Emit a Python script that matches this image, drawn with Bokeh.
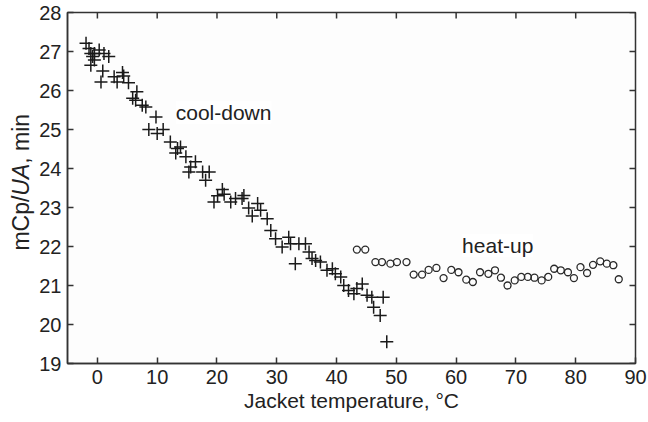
import math
from bokeh.plotting import figure
from bokeh.layouts import row
from bokeh.models import Range1d, Label, FixedTicker
from bokeh.embed import file_html
from bokeh.resources import INLINE

# ---- data ----
cool_x = [-1.9, -1.4, -1.1, -0.5, -0.8, 0.3, 1.1, 1.9, -1.1, -0.5, 0.9, 0.6, 2.8, 3.3,
          4.2, 4.4, 5.2, 6.6, 5.9, 6.4, 7.5, 8.1, 9.8, 8.6, 10.0, 11.0, 12.2, 13.4, 13.9,
          13.1, 14.8, 15.3, 15.6, 16.4, 17.6, 18.1, 18.7, 19.5, 20.1, 20.9, 21.2, 22.3,
          23.1, 24.2, 24.5, 25.3, 25.9, 26.8, 27.3, 28.4, 29.0, 29.8, 30.9, 32.0, 32.3,
          33.1, 33.7, 34.8, 35.4, 35.9, 36.5, 37.3, 38.4, 39.3, 39.8, 40.7, 41.2, 42.0,
          42.9, 43.4, 44.3, 45.1, 45.9, 46.2, 47.3, 47.8, 48.4]
cool_y = [27.21, 27.08, 26.95, 26.95, 26.87, 27.04, 26.95, 26.87, 26.65, 26.78, 26.50, 26.22,
          26.35, 26.22, 26.46, 26.37, 26.20, 25.97, 25.80, 25.75, 25.62, 25.58, 25.32, 25.00,
          24.90, 25.00, 24.68, 24.51, 24.55, 24.40, 24.30, 23.91, 24.04, 24.17, 23.91, 23.70,
          23.91, 23.14, 23.30, 23.46, 23.34, 23.14, 23.23, 23.23, 23.31, 22.99, 22.78, 23.10,
          22.93, 22.71, 22.41, 22.20, 21.99, 22.24, 22.07, 21.56, 22.07, 22.07, 21.86, 21.69,
          21.64, 21.60, 21.39, 21.43, 21.30, 21.22, 21.00, 20.87, 20.79, 20.92, 21.04, 20.75,
          20.70, 20.44, 20.23, 20.70, 19.56]

heat_x = [43.4, 44.8, 46.5, 47.6, 49.0, 50.1, 51.7, 52.9, 54.3, 55.4, 56.7, 57.9, 59.2,
          60.4, 61.7, 62.8, 64.0, 65.4, 66.5, 67.5, 68.6, 69.8, 70.9, 72.0, 73.1, 74.3,
          75.4, 76.4, 77.5, 78.7, 79.7, 80.8, 81.9, 82.9, 84.1, 85.2, 86.3, 87.2]
heat_y = [21.92, 21.92, 21.60, 21.60, 21.56, 21.60, 21.60, 21.28, 21.28, 21.40, 21.45, 21.19,
          21.40, 21.34, 21.15, 21.09, 21.34, 21.30, 21.39, 21.20, 21.00, 21.13, 21.22, 21.22,
          21.20, 21.13, 21.22, 21.43, 21.39, 21.34, 21.19, 21.47, 21.32, 21.53, 21.62, 21.56,
          21.52, 21.16]

x_ticks = [0, 10, 20, 30, 40, 50, 60, 70, 80, 90]
y_ticks = [19, 20, 21, 22, 23, 24, 25, 26, 27, 28]

FONT = "Liberation Sans"
AX = "#333333"
TXT = "#222222"
LEFT_W = 36
H = 422

# ---- narrow panel holding the y-axis title (with italic "UA") ----
lab = figure(width=LEFT_W, height=H, x_range=Range1d(0, LEFT_W), y_range=Range1d(0, H),
             output_backend="svg", toolbar_location=None,
             x_axis_location=None, y_axis_location=None,
             min_border=0, min_border_left=0, min_border_right=0,
             min_border_top=0, min_border_bottom=0)
lab.outline_line_color = None
lab.xgrid.visible = False
lab.ygrid.visible = False
lab.background_fill_color = "white"
lab.border_fill_color = "white"
anchor_x = 20
anchor_y = H - 204
for txt, style, off in [("mCp/", "normal", -68.4), ("UA", "italic", -13.5), (", min", "normal", 18.4)]:
    lab.add_layout(Label(x=anchor_x, y=anchor_y, y_offset=off, text=txt, angle=math.pi / 2,
                         text_font=FONT, text_font_size="23px", text_font_style=style,
                         text_align="left", text_baseline="middle", text_color=TXT))

# ---- main plot ----
p = figure(width=648 - LEFT_W, height=H, x_range=Range1d(-5, 90), y_range=Range1d(19, 28),
           output_backend="svg", toolbar_location=None,
           min_border_left=66 - LEFT_W, min_border_right=13, min_border_top=12,
           min_border_bottom=59)
p.background_fill_color = "#fdfdfd"
p.border_fill_color = "white"
p.outline_line_color = AX
p.outline_line_width = 1.5
p.xgrid.visible = False
p.ygrid.visible = False

for ax, ticks in ((p.xaxis[0], x_ticks), (p.yaxis[0], y_ticks)):
    ax.ticker = FixedTicker(ticks=ticks)
    ax.major_tick_in = 6
    ax.major_tick_out = 0
    ax.minor_tick_line_color = None
    ax.axis_line_color = AX
    ax.axis_line_width = 1.5
    ax.major_tick_line_color = AX
    ax.major_tick_line_width = 1.5
    ax.major_label_text_font = FONT
    ax.major_label_text_font_size = "20px"
    ax.major_label_text_color = TXT
    ax.major_label_standoff = 6

p.xaxis.axis_label = "Jacket temperature, °C"
p.xaxis.axis_label_text_font = FONT
p.xaxis.axis_label_text_font_size = "21px"
p.xaxis.axis_label_text_font_style = "normal"
p.xaxis.axis_label_text_color = TXT
p.xaxis.axis_label_standoff = 2

# inward ticks on top and right edges (half of each dash is clipped by the frame)
p.scatter(x_ticks, [y_ticks[-1]] * len(x_ticks), marker="dash", angle=math.pi / 2, size=12,
          line_color=AX, line_width=1.5)
p.scatter([x_ticks[-1]] * len(y_ticks), y_ticks, marker="dash", size=12,
          line_color=AX, line_width=1.5)

p.scatter(cool_x, cool_y, marker="cross", size=13, line_color="#1a1a1a", line_width=1.5)
p.scatter(heat_x, heat_y, marker="circle", size=7, fill_color=None,
          line_color="#2a2a2a", line_width=1.3)

p.add_layout(Label(x=13.1, y=25.44, text="cool-down", text_font=FONT, text_font_size="21px",
                   text_baseline="middle", text_align="left", text_color=TXT,
                   background_fill_color="white"))
p.add_layout(Label(x=61.0, y=22.03, text="heat-up", text_font=FONT, text_font_size="21px",
                   text_baseline="middle", text_align="left", text_color=TXT,
                   background_fill_color="white"))

layout = row(lab, p, spacing=0)
open("out.html", "w").write(file_html(layout, INLINE))
